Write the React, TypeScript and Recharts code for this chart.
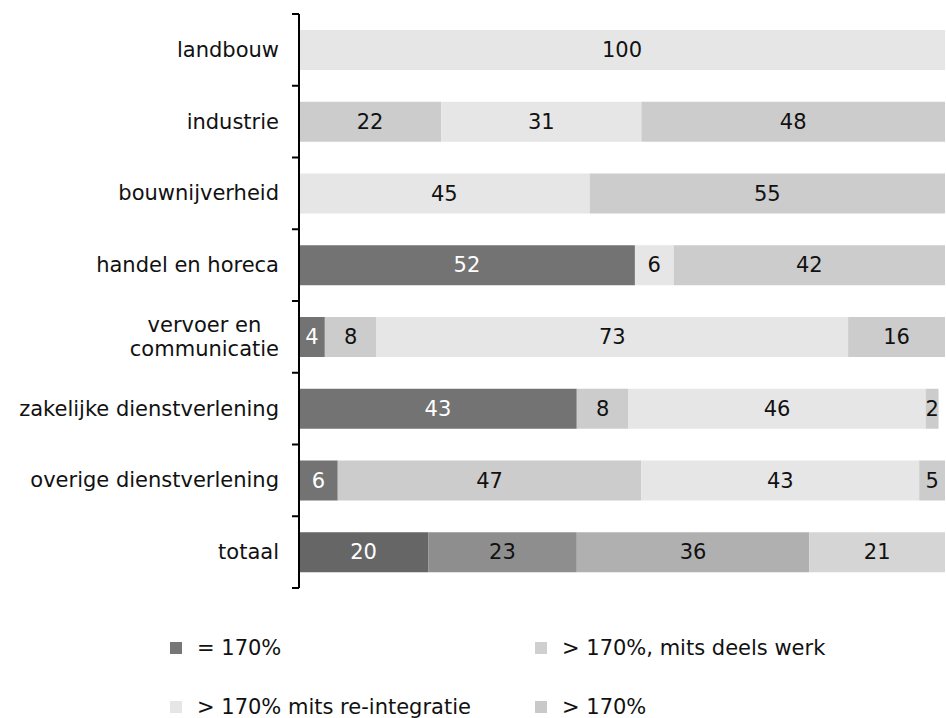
import React from 'react';
import { BarChart, Bar, XAxis, YAxis, Cell, LabelList } from 'recharts';

const categories = [
  'landbouw',
  'industrie',
  'bouwnijverheid',
  'handel en horeca',
  'vervoer en communicatie',
  'zakelijke dienstverlening',
  'overige dienstverlening',
  'totaal',
];

const eq170 = [null, null, null, 52, 4, 43, 6, 20];
const deelsWerk = [null, 22, null, null, 8, 8, 47, 23];
const reIntegratie = [100, 31, 45, 6, 73, 46, 43, 36];
const boven170 = [null, 48, 55, 42, 16, 2, 5, 21];

const seriesNames = ['= 170%', '> 170%, mits deels werk', '> 170% mits re-integratie', '> 170%'];

const FONT = '"DejaVu Sans", Verdana, sans-serif';
const FONT_SIZE = 21;

const CHART_W = 946;
const CHART_H = 600;
const MARGIN = { top: 14, right: 1, bottom: 12, left: 0 };
const AXIS_W = 299;

// colours per series, totaal row gets its own shades
const series = [
  { key: 'eq', name: seriesNames[0], color: '#737373', totaal: '#666666', legend: '#767676', light: true, totaalLight: true },
  { key: 'deels', name: seriesNames[1], color: '#cccccc', totaal: '#8e8e8e', legend: '#cfcfcf', light: false, totaalLight: true },
  { key: 'reint', name: seriesNames[2], color: '#e6e6e6', totaal: '#b0b0b0', legend: '#e6e6e6', light: false, totaalLight: false },
  { key: 'gt', name: seriesNames[3], color: '#cccccc', totaal: '#d5d5d5', legend: '#c9c9c9', light: false, totaalLight: false },
];

const data = categories.map((name, i) => ({
  name,
  eq: eq170[i],
  deels: deelsWerk[i],
  reint: reIntegratie[i],
  gt: boven170[i],
}));

const wrapped: Record<string, string[]> = {
  'vervoer en communicatie': ['vervoer en', 'communicatie'],
};

let canvasCtx: CanvasRenderingContext2D | null = null;
const measure = (s: string) => {
  if (!canvasCtx) {
    canvasCtx = document.createElement('canvas').getContext('2d');
  }
  if (!canvasCtx) return s.length * FONT_SIZE * 0.6;
  canvasCtx.font = `${FONT_SIZE}px ${FONT}`;
  return canvasCtx.measureText(s).width;
};

const bandHalf = (CHART_H - MARGIN.top - MARGIN.bottom) / categories.length / 2;

const CategoryTick = (props: any) => {
  const { y, payload, index } = props;
  const axisX = MARGIN.left + AXIS_W;
  const right = axisX - 20;
  const lines = wrapped[payload.value] || [payload.value];
  const maxW = Math.max(...lines.map(measure));
  const lineH = 24;
  return (
    <g>
      <line x1={axisX - 7} x2={axisX} y1={y - bandHalf} y2={y - bandHalf} stroke="#000" strokeWidth={2} />
      {index === categories.length - 1 && (
        <line x1={axisX - 7} x2={axisX} y1={y + bandHalf} y2={y + bandHalf} stroke="#000" strokeWidth={2} />
      )}
      {lines.map((ln, i) => (
        <text
          key={ln}
          x={lines.length > 1 ? right - maxW / 2 : right}
          y={y + (i - (lines.length - 1) / 2) * lineH}
          textAnchor={lines.length > 1 ? 'middle' : 'end'}
          dominantBaseline="central"
          fontFamily={FONT}
          fontSize={FONT_SIZE}
          fill="#111"
        >
          {ln}
        </text>
      ))}
    </g>
  );
};

const makeLabel = (s: typeof series[number]) => (props: any) => {
  const { x, y, width, height, value, index } = props;
  if (value == null) return null;
  const isTotaal = index === categories.length - 1;
  const white = isTotaal ? s.totaalLight : s.light;
  return (
    <text
      x={x + width / 2}
      y={y + height / 2}
      textAnchor="middle"
      dominantBaseline="central"
      fontFamily={FONT}
      fontSize={FONT_SIZE}
      fill={white ? '#ffffff' : '#111'}
    >
      {value}
    </text>
  );
};

const legendPos = [
  { x: 170, y: 648 },
  { x: 535, y: 648 },
  { x: 170, y: 707 },
  { x: 535, y: 707 },
];

const App: React.FC = () => {
  return (
    <div style={{ position: 'absolute', left: 0, top: 0, width: 946, height: 718, background: '#fff', fontFamily: FONT }}>
      <BarChart width={CHART_W} height={CHART_H} data={data} layout="vertical" margin={MARGIN} barSize={40}>
        <XAxis type="number" domain={[0, 100]} hide allowDataOverflow />
        <YAxis
          type="category"
          dataKey="name"
          width={AXIS_W}
          axisLine={{ stroke: '#000', strokeWidth: 2 }}
          tickLine={false}
          tick={<CategoryTick />}
          interval={0}
        />
        {series.map((s) => (
          <Bar key={s.key} dataKey={s.key} name={s.name} stackId="a" fill={s.color} isAnimationActive={false}>
            {data.map((_, i) => (
              <Cell key={i} fill={i === categories.length - 1 ? s.totaal : s.color} />
            ))}
            <LabelList dataKey={s.key} content={makeLabel(s)} />
          </Bar>
        ))}
      </BarChart>
      {series.map((s, i) => (
        <div
          key={s.key}
          style={{
            position: 'absolute',
            left: legendPos[i].x,
            top: legendPos[i].y - 14,
            height: 28,
            display: 'flex',
            alignItems: 'center',
            whiteSpace: 'nowrap',
            fontSize: FONT_SIZE,
            color: '#111',
          }}
        >
          <span style={{ display: 'inline-block', width: 12, height: 12, background: s.legend, marginRight: 15 }} />
          <span>{s.name}</span>
        </div>
      ))}
    </div>
  );
};

export default App;
